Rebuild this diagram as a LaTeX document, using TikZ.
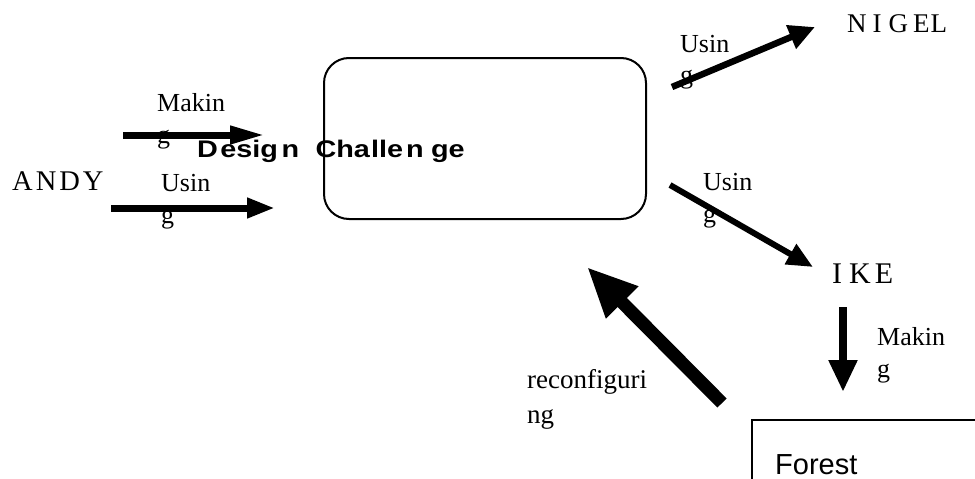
\documentclass[tikz,border=0pt]{standalone}
\usepackage{fontspec}
\setmainfont{Liberation Serif}
\setsansfont{Liberation Sans}
\usetikzlibrary{arrows.meta,calc}
\tikzset{
  lbl/.style={anchor=base west, inner sep=0pt, font=\fontsize{26}{32}\selectfont},
  fat/.style n args={3}{line width=#1, -{Triangle[length=#2, width=#3]}},
  frame/.style={draw, line width=2pt},
}
\newcommand\twoline[2]{\begin{tabular}[t]{@{}l@{}}#1\\#2\end{tabular}}
\begin{document}
\begin{tikzpicture}[x=1pt,y=-1pt]
\useasboundingbox (0,0) rectangle (975,479);
\fill[white] (0,0) rectangle (975,479);
% central rounded box
\node[frame, rounded corners=25pt, minimum width=322pt, minimum height=161pt, anchor=north west, inner sep=0pt] (dc) at (323,57) {};
% forest box (cut by the page)
\begin{scope}
\clip (0,0) rectangle (975,479);
\node[frame, minimum width=260pt, minimum height=120pt, anchor=north west, inner sep=0pt] (forest) at (751,419) {};
\end{scope}
\node[anchor=base west, inner sep=0pt, font=\sffamily\fontsize{29}{34}\selectfont] (forestlbl) at (775,474) {Forest};
% labels
\node[lbl] (making1) at (157,111) {\twoline{Makin}{g}};
\node[lbl] (using1) at (161,191) {\twoline{Usin}{g}};
\node[lbl] (using2) at (680,52) {\twoline{Usin}{g}};
\node[lbl] (using3) at (703,190) {\twoline{Usin}{g}};
\node[lbl] (making2) at (877,345) {\twoline{Makin}{g}};
\node[lbl, font=\fontsize{27}{35}\selectfont] (reconf) at (527,388) {\twoline{reconfiguri}{ng}};
\node[anchor=base west, inner sep=0pt, font=\fontsize{28.5}{34}\selectfont] (andy) at (12,190) {A\kern3pt N\kern3pt D\kern3pt Y};
\node[anchor=base west, inner sep=0pt, font=\fontsize{27}{32}\selectfont] (nigel) at (847,32) {N\kern6pt I\kern7pt G\kern5pt E\kern1pt L};
\node[anchor=base west, inner sep=0pt, font=\fontsize{30}{36}\selectfont] (ike) at (832,283) {I\kern7pt K\kern4pt E};
% arrow end points
\coordinate (m1s) at (123,135); \coordinate (m1e) at (265,135);
\coordinate (u1s) at (111,208); \coordinate (u1e) at (275,208);
\coordinate (ns) at (672,87);   \coordinate (ne) at (815,27);
\coordinate (is) at (670,185);  \coordinate (ie) at (813,267);
\coordinate (ds) at (843,307);  \coordinate (de) at (843,392);
\coordinate (rs) at (722,403);  \coordinate (re) at (587,267);
\draw[fat={7pt}{35pt}{17pt}] (m1s) -- (m1e);
\draw[fat={7pt}{28pt}{19pt}] (u1s) -- (u1e);
\draw[fat={6.5pt}{26pt}{24pt}] (ns) -- (ne);
\draw[fat={6pt}{26pt}{22pt}] (is) -- (ie);
\draw[fat={8pt}{32pt}{27pt}] (ds) -- (de);
\draw[fat={13pt}{50pt}{42pt}] (rs) -- (re);
% title
\node[anchor=base west, inner sep=0pt, font=\sffamily\bfseries\fontsize{24}{28}\selectfont] (title) at (197,157)
  {\scalebox{1.2}[1]{D\kern2pt e\kern0pt s\kern0pt i\kern0pt g\kern3pt n\ \kern7pt C\kern0pt h\kern0pt a\kern1pt l\kern0pt l\kern0pt e\kern2.5pt n\kern6pt g\kern0pt e}};
\end{tikzpicture}
\end{document}
